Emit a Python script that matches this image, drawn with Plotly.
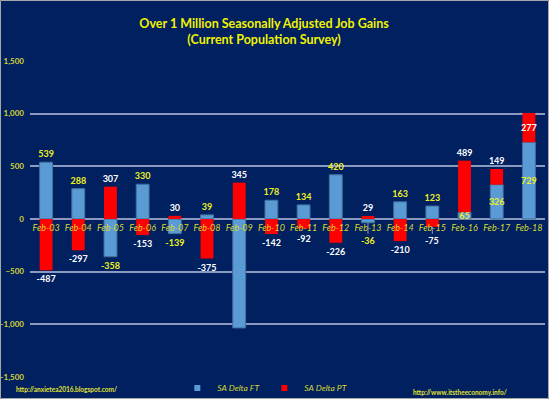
import plotly.graph_objects as go

categories = ["Feb-03", "Feb-04", "Feb-05", "Feb-06", "Feb-07", "Feb-08", "Feb-09", "Feb-10",
              "Feb-11", "Feb-12", "Feb-13", "Feb-14", "Feb-15", "Feb-16", "Feb-17", "Feb-18"]
sa_delta_ft = [539, 288, -358, 330, -139, 39, -1034, 178, 134, 420, -36, 163, 123, 65, 326, 729]
sa_delta_pt = [-487, -297, 307, -153, 30, -375, 345, -142, -92, -226, 29, -210, -75, 489, 149, 277]
ft_labels = ["539", "288", "-358", "330", "-139", "39", "", "178", "134", "420", "", "163", "123", "65", "326", "729"]
pt_labels = ["-487", "-297", "307", "-153", "30", "-375", "345", "-142", "", "-226", "29", "-210", "", "489", "149", "277"]
ft_textpos = ["outside"] * 13 + ["inside", "inside", "inside"]
pt_textpos = ["outside"] * 15 + ["inside"]
# labels that the reference moves away from the category labels: (category, value, text, trace)
moved_labels = [("Feb-11", -92, "-92", "PT"), ("Feb-13", -36, "-36", "FT"), ("Feb-15", -75, "-75", "PT")]

BG = "#002060"
YEL = "#E6E62E"
FONT = "Lato"
FT_COLOR = "#5B9BD5"
PT_COLOR = "#FF0000"
FT_TXT = "#F0F020"
PT_TXT = "#FFFFFF"

fig = go.Figure()
fig.add_trace(go.Bar(
    x=categories, y=sa_delta_ft, name="SA Delta FT", showlegend=False,
    marker=dict(color=FT_COLOR, line=dict(color="#41719C", width=1)),
    text=ft_labels, textposition=ft_textpos, constraintext="none", cliponaxis=False,
    textangle=0,
    textfont=dict(family=FONT, size=9, color=FT_TXT, weight="bold"),
    insidetextanchor="middle",
))
fig.add_trace(go.Bar(
    x=categories, y=sa_delta_pt, name="SA Delta PT", showlegend=False,
    marker=dict(color=PT_COLOR, line=dict(width=0)),
    text=pt_labels, textposition=pt_textpos, constraintext="none", cliponaxis=False,
    textangle=0,
    textfont=dict(family=FONT, size=9, color=PT_TXT, weight="bold"),
    insidetextanchor="middle",
))
# legend entries (small square swatches as in the reference)
for nm, col in [("SA Delta FT", FT_COLOR), ("SA Delta PT", PT_COLOR)]:
    fig.add_trace(go.Scatter(x=[None], y=[None], mode="markers", name=nm,
                             marker=dict(symbol="square", size=6, color=col)))

annotations = [
    dict(text="<b>http://anxietea2016.blogspot.com/</b>", xref="paper", yref="paper",
         x=-0.031, y=-0.038, xanchor="left", yanchor="middle", showarrow=False,
         font=dict(family=FONT, size=6.5, color="#E0E030")),
    dict(text="<b>http://www.itstheeconomy.info/</b>", xref="paper", yref="paper",
         x=0.93, y=-0.05, xanchor="right", yanchor="middle", showarrow=False,
         font=dict(family=FONT, size=6.5, color="#E0E030")),
]
offsets = {"Feb-11": 10, "Feb-13": 18, "Feb-15": 14}
for cat, val, txt, tr in moved_labels:
    col = FT_TXT if tr == "FT" else PT_TXT
    leader = cat != "Feb-11"
    annotations.append(dict(
        x=cat, y=val, xref="x", yref="y", text=f"<b>{txt}</b>",
        showarrow=True, arrowhead=0, arrowwidth=1,
        arrowcolor="#8A9AC0" if leader else "rgba(0,0,0,0)",
        ax=0, ay=offsets[cat], standoff=0,
        font=dict(family=FONT, size=9, color=col),
    ))

fig.update_layout(
    width=549, height=399,
    barmode="relative", bargap=0.6,
    paper_bgcolor=BG, plot_bgcolor=BG,
    margin=dict(l=30, r=4, t=61, b=22, autoexpand=False),
    font=dict(family=FONT, color=YEL),
    title=dict(
        text="<b>Over 1 Million Seasonally Adjusted Job Gains<br>(Current Population Survey)</b>",
        font=dict(family=FONT, size=12.5, color="#F2F200"),
        x=0.481, xref="container", xanchor="center",
        y=1 - 28 / 399, yref="container", yanchor="top",
    ),
    xaxis=dict(
        anchor="free", position=0.5, showline=False, showgrid=False, zeroline=False,
        ticks="", ticklabelstandoff=2, automargin=False, range=[-0.5, 15.5],
        tickfont=dict(family=FONT, size=9, color="#D8D830", style="italic"),
    ),
    yaxis=dict(
        range=[-1500, 1500], dtick=500, tickformat=",d", automargin=False,
        showgrid=True, gridcolor="#8A9AC0", gridwidth=1.5,
        zeroline=True, zerolinecolor="#8A9AC0", zerolinewidth=1.5,
        showline=False, ticks="", ticklabelstandoff=5,
        tickfont=dict(family=FONT, size=8, color="#D4D435", weight="bold"),
    ),
    legend=dict(
        orientation="h", x=0.455, xanchor="center", xref="paper",
        y=11 / 399, yanchor="middle", yref="container",
        font=dict(family=FONT, size=8.5, color="#D8D830", style="italic"),
        bgcolor="rgba(0,0,0,0)", itemwidth=30, entrywidth=42, entrywidthmode="pixels",
        tracegroupgap=0,
    ),
    annotations=annotations,
    shapes=[
        dict(type="rect", xref="paper", yref="paper",
             x0=-29.5 / 515, x1=1 + 3.5 / 515, y0=-21.5 / 316, y1=1 + 60.5 / 316,
             line=dict(color="#A6A6A6", width=1)),
    ],
)

fig.write_html("out.html", config={"displayModeBar": False},
               post_script="document.body.style.margin='0';document.body.style.overflow='hidden';")
